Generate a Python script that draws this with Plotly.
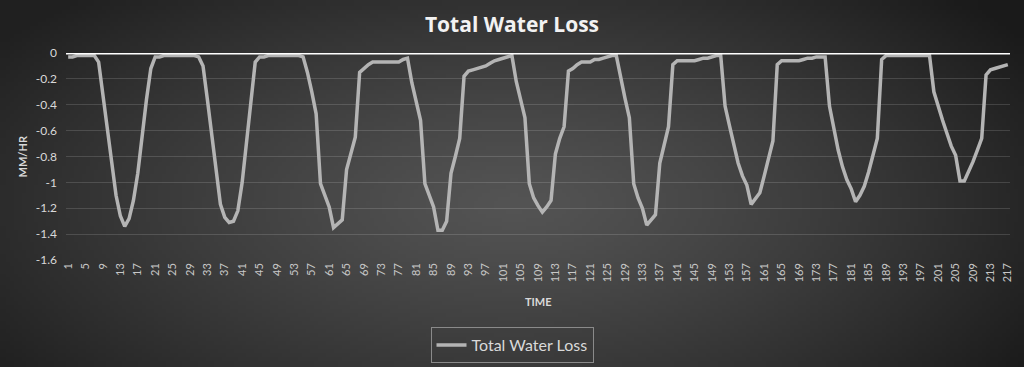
import base64, struct, zlib
import numpy as np
import plotly.graph_objects as go

# ---------------- data ----------------
day1 = [-0.03, -0.03, -0.02, -0.02, -0.02, -0.02, -0.02, -0.07, -0.33, -0.60, -0.87, -1.10,
        -1.26, -1.34, -1.28, -1.14, -0.93, -0.63, -0.36, -0.12, -0.03, -0.03, -0.02, -0.02]
day2 = [-0.02, -0.02, -0.02, -0.02, -0.02, -0.02, -0.03, -0.10, -0.36, -0.64, -0.92, -1.17,
        -1.27, -1.31, -1.30, -1.22, -1.00, -0.70, -0.40, -0.07, -0.03, -0.03, -0.02, -0.02]
day3 = [-0.02, -0.02, -0.02, -0.02, -0.02, -0.02, -0.03, -0.15, -0.30, -0.47, -1.01, -1.10,
        -1.19, -1.35, -1.32, -1.29, -0.90, -0.78, -0.65, -0.15, -0.12, -0.09, -0.07, -0.07]
day4 = [-0.07, -0.07, -0.07, -0.07, -0.07, -0.05, -0.04, -0.23, -0.38, -0.52, -1.01, -1.10,
        -1.19, -1.37, -1.37, -1.30, -0.93, -0.80, -0.66, -0.18, -0.14, -0.13, -0.12, -0.11]
day5 = [-0.10, -0.08, -0.06, -0.05, -0.04, -0.03, -0.02, -0.22, -0.36, -0.50, -1.01, -1.12,
        -1.18, -1.23, -1.19, -1.14, -0.78, -0.66, -0.57, -0.14, -0.12, -0.09, -0.07, -0.07]
day6 = [-0.07, -0.05, -0.05, -0.04, -0.03, -0.02, -0.02, -0.20, -0.35, -0.50, -1.01, -1.12,
        -1.20, -1.33, -1.29, -1.25, -0.85, -0.70, -0.57, -0.09, -0.06, -0.06, -0.06, -0.06]
day7 = [-0.06, -0.05, -0.04, -0.04, -0.03, -0.02, -0.02, -0.41, -0.56, -0.72, -0.85, -0.95,
        -1.02, -1.17, -1.13, -1.08, -0.95, -0.82, -0.68, -0.09, -0.06, -0.06, -0.06, -0.06]
day8 = [-0.06, -0.05, -0.04, -0.04, -0.03, -0.03, -0.03, -0.41, -0.58, -0.75, -0.88, -0.98,
        -1.05, -1.15, -1.10, -1.03, -0.92, -0.80, -0.66, -0.05, -0.02, -0.02, -0.02, -0.02]
day9 = [-0.02, -0.02, -0.02, -0.02, -0.02, -0.02, -0.02, -0.30, -0.42, -0.52, -0.62, -0.72,
        -0.79, -0.99, -0.99, -0.92, -0.84, -0.75, -0.66, -0.17, -0.13, -0.12, -0.11, -0.10, -0.09]

water_loss = day1 + day2 + day3 + day4 + day5 + day6 + day7 + day8 + day9
time_steps = list(range(1, len(water_loss) + 1))
x_tick_vals = list(range(1, 218, 4))
x_tick_text = [str(v) for v in x_tick_vals]
y_tick_vals = [0, -0.2, -0.4, -0.6, -0.8, -1, -1.2, -1.4, -1.6]
y_tick_text = ["0", "-0.2", "-0.4", "-0.6", "-0.8", "-1", "-1.2", "-1.4", "-1.6"]

# ---------------- background gradient image ----------------
W, H = 1024, 367
ML, MR, MT, MB = 66, 14, 53, 107
PW, PH = W - ML - MR, H - MT - MB

def gradient_png(w, h):
    yy, xx = np.mgrid[0:h, 0:w]
    cx, cy = w * 0.5, h * 0.55
    d = np.sqrt(((xx - cx) / (w * 0.5)) ** 2 + ((yy - cy) / (h * 0.62)) ** 2)
    d = np.clip(d / 1.25, 0, 1)
    v = 84 - (84 - 32) * d ** 1.2
    v = v - 6 * np.clip((xx - cx) / (w * 0.5), 0, 1) ** 2
    v = np.clip(v, 0, 255).astype(np.uint8)
    img = np.stack([v, v, v], axis=-1)
    raw = b"".join(b"\x00" + img[r].tobytes() for r in range(h))
    def chunk(t, data):
        c = struct.pack(">I", len(data)) + t + data
        return c + struct.pack(">I", zlib.crc32(t + data) & 0xffffffff)
    png = b"\x89PNG\r\n\x1a\n" + chunk(b"IHDR", struct.pack(">IIBBBBB", w, h, 8, 2, 0, 0, 0)) \
        + chunk(b"IDAT", zlib.compress(raw, 9)) + chunk(b"IEND", b"")
    return "data:image/png;base64," + base64.b64encode(png).decode()

bg = gradient_png(256, 92)

FONT = "Lato, 'Open Sans', sans-serif"

fig = go.Figure()
fig.add_trace(go.Scatter(
    x=time_steps, y=water_loss, mode="lines", name="Total Water Loss",
    line=dict(color="#b4b4b4", width=3.5),
))

fig.update_layout(
    width=W, height=H,
    margin=dict(l=ML, r=MR, t=MT, b=MB, autoexpand=False),
    paper_bgcolor="#2a2a2a",
    plot_bgcolor="rgba(0,0,0,0)",
    font=dict(family=FONT, color="#d0d0d0"),
    title=dict(text="<b>Total Water Loss</b>", x=0.5, xanchor="center", y=1 - 25 / H, yanchor="middle",
               font=dict(size=21, color="#f2f2f2", family="'Open Sans', sans-serif")),
    showlegend=True,
    legend=dict(orientation="h", x=(512 - ML) / PW, xanchor="center",
                y=(MT + PH - 327) / PH, yanchor="top",
                bordercolor="#8a8a8a", borderwidth=1, bgcolor="rgba(0,0,0,0)",
                font=dict(size=16, color="#d9d9d9", family=FONT)),
    images=[dict(source=bg, xref="paper", yref="paper",
                 x=-ML / PW, y=1 + MT / PH, sizex=W / PW, sizey=H / PH,
                 xanchor="left", yanchor="top", sizing="stretch", layer="below")],
    xaxis=dict(range=[0.5, 217.5], tickmode="array", tickvals=x_tick_vals, ticktext=x_tick_text,
               tickangle=-90, tickfont=dict(size=11, color="#c8c8c8", family=FONT),
               showgrid=False, zeroline=False, showline=False, ticks="", automargin=False),
    yaxis=dict(range=[-1.6, 0], tickmode="array", tickvals=y_tick_vals, ticktext=y_tick_text,
               tickfont=dict(size=12, color="#d9d9d9", family=FONT),
               showgrid=True, gridcolor="rgba(255,255,255,0.14)", gridwidth=1,
               zeroline=False, showline=False, ticks="", ticklabelstandoff=8, automargin=False),
    shapes=[dict(type="line", xref="paper", yref="y", x0=0, x1=1, y0=0, y1=0,
                 line=dict(color="#ffffff", width=3), layer="above")],
    annotations=[
        dict(text="<b>MM/HR</b>", xref="paper", yref="paper", x=(22 - ML) / PW, y=0.5,
             textangle=-90, showarrow=False, font=dict(size=11, color="#d9d9d9", family=FONT),
             xanchor="center", yanchor="middle"),
        dict(text="<b>TIME</b>", xref="paper", yref="paper", x=0.5, y=(MT + PH - 301) / PH,
             showarrow=False, font=dict(size=11, color="#d9d9d9", family=FONT),
             xanchor="center", yanchor="middle"),
    ],
)

fig.write_html("out.html", config={"displayModeBar": False},
               post_script="document.body.style.margin='0';document.body.style.overflow='hidden';")
